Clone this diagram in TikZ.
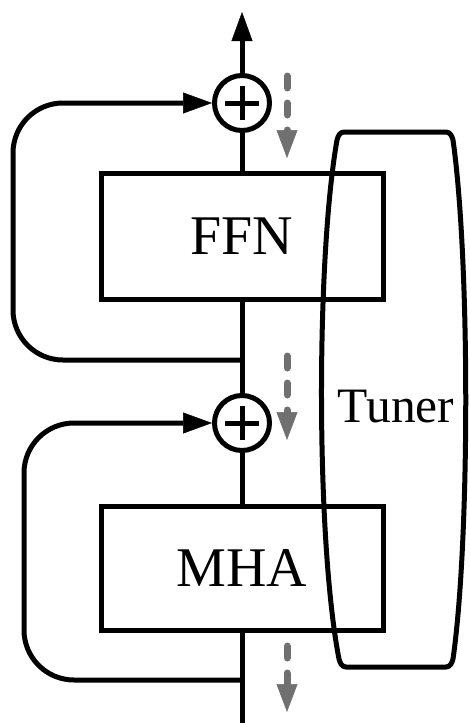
\documentclass[tikz,border=0pt]{standalone}
\usepackage{fontspec}
\setmainfont{Liberation Serif}
\usetikzlibrary{arrows.meta,positioning,calc}
\definecolor{FlowGray}{RGB}{112,112,112}
\tikzset{
  block/.style={draw, rectangle, minimum width=282pt, minimum height=124pt, inner sep=0pt, font=\fontsize{56}{60}\selectfont},
  sumop/.style={draw, circle, minimum size=55pt, inner sep=0pt,
    path picture={\draw[line width=5pt] ([xshift=-17pt]path picture bounding box.center) -- ([xshift=17pt]path picture bounding box.center);
                  \draw[line width=5pt] ([yshift=-17pt]path picture bounding box.center) -- ([yshift=17pt]path picture bounding box.center);}},
  head/.style={-{Triangle[length=29pt,width=21pt,line width=0.5pt]}},
  resid/.style={head, rounded corners=50pt},
  flow/.style={FlowGray, line width=7pt, line cap=round, dash pattern=on 12pt off 15pt, -{Triangle[length=28pt,width=21pt,line width=0.5pt]}}
}
\begin{document}
\begin{tikzpicture}[x=1pt,y=-1pt,line width=5pt]
        \useasboundingbox (0,0) rectangle (469,723);
        \node[block, minimum height=126pt] (ffn) at (242,236) {FFN};
        \node[block] (mha) at (242,568) {MHA};
        \node[sumop] (add1) at (242,423) {};
        \node[sumop] (add2) at (242,103) {};
        \coordinate (in) at (242,723);
        \coordinate (out) at (242,12);
        \coordinate (skip1) at (242,680);
        \coordinate (skip2) at (242,360);
        \draw (in) -- (mha.south);
        \draw (mha.north) -- (add1.south);
        \draw (add1.north) -- (ffn.south);
        \draw (ffn.north) -- (add2.south);
        \draw[head] (add2.north) -- (out);
        \draw[resid] (skip1) -- ++(-218,0) |- (add1.west);
        \draw[resid] (skip2) -- ++(-229,0) |- (add2.west);
        \draw (344,132) -- (446,132) .. controls (450,132) and (452,136) .. (453,140)
              .. controls (470,260) and (470,540) .. (453,659) .. controls (452,663) and (450,667) .. (446,667)
              -- (346,667) .. controls (342,667) and (340,663) .. (339,659)
              .. controls (316,540) and (316,260) .. (337,140) .. controls (338,136) and (340,132) .. cycle;
        \node[font=\fontsize{49.5}{54}\selectfont, inner sep=0pt] (tuner) at (396,407) {Tuner};
        \coordinate (g2s) at (287,76);  \coordinate (g2e) at (287,158);
        \coordinate (g1s) at (287,356); \coordinate (g1e) at (287,440);
        \coordinate (g0s) at (287,646); \coordinate (g0e) at (287,712);
        \draw[flow] (g2s) -- (g2e);
        \draw[flow] (g1s) -- (g1e);
        \draw[flow] (g0s) -- (g0e);
      \end{tikzpicture}
\end{document}
